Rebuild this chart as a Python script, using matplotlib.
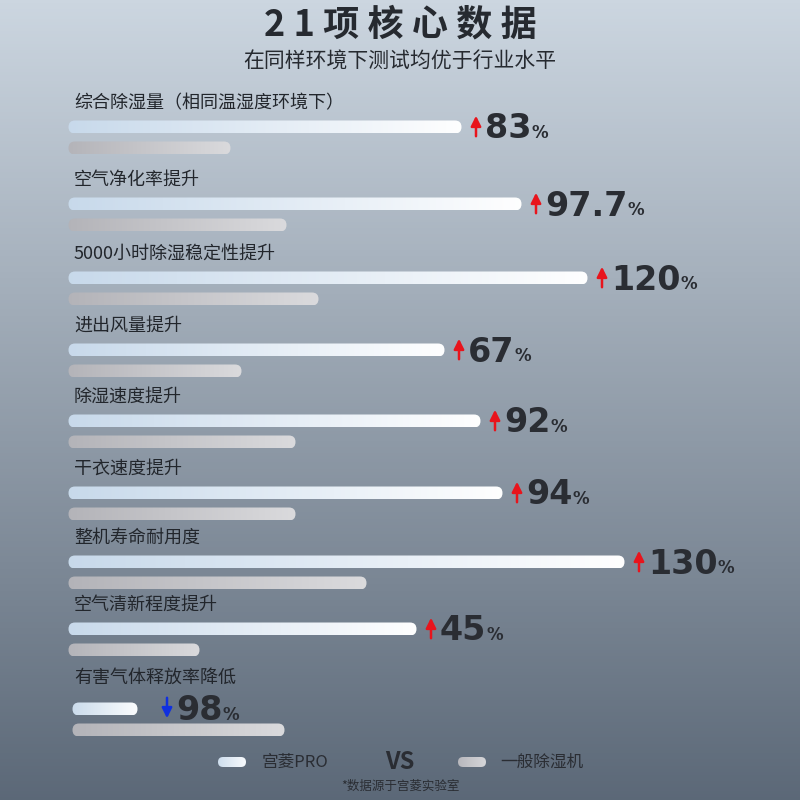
import numpy as np
import matplotlib.pyplot as plt
from matplotlib.patches import FancyBboxPatch

plt.rcParams['font.family'] = ['Noto Sans CJK SC', 'DejaVu Sans']

labels = ['综合除湿量（相同温湿度环境下）', '空气净化率提升', '5000小时除湿稳定性提升', '进出风量提升',
          '除湿速度提升', '干衣速度提升', '整机寿命耐用度', '空气清新程度提升', '有害气体释放率降低']
values = ['83', '97.7', '120', '67', '92', '94', '130', '45', '98']
up = [True] * 8 + [False]
pro_len = [394, 454, 520, 377, 413, 435, 557, 349, 66]
base_len = [163, 219, 251, 174, 228, 228, 299, 132, 213]
label_y = [103, 180, 254, 326, 397, 469, 538, 605, 678]

fig = plt.figure(figsize=(8, 8), dpi=100)
ax = fig.add_axes([0, 0, 1, 1])
ax.set_xlim(0, 800)
ax.set_ylim(800, 0)
ax.axis('off')

# background gradient
g = np.linspace(0, 1, 256)[:, None]
top = np.array([0.80, 0.84, 0.88])
bot = np.array([0.36, 0.41, 0.47])
bg = top + (bot - top) * g[..., None]
bg = np.repeat(bg, 2, axis=1)
ax.imshow(bg, extent=[0, 800, 800, 0], aspect='auto', zorder=0)


def grad_bar(x0, y, w, h, c0, c1):
    img = np.linspace(0, 1, 256)[None, :, None]
    img = np.array(c0) + (np.array(c1) - np.array(c0)) * img
    im = ax.imshow(img, extent=[x0, x0 + w, y + h / 2, y - h / 2], aspect='auto', zorder=2)
    p = FancyBboxPatch((x0 + h / 2, y - h / 2), max(w - h, 0.1), h,
                       boxstyle='round,pad=0,rounding_size=%f' % (h / 2),
                       transform=ax.transData, facecolor='none', edgecolor='none')
    ax.add_patch(p)
    im.set_clip_path(p)


ax.text(400, 25, '2 1 项 核 心 数 据', ha='center', va='center', fontsize=26, fontweight='bold', color='#262a30')
ax.text(400, 62, '在同样环境下测试均优于行业水平', ha='center', va='center', fontsize=15, color='#262a30')

pro_c0, pro_c1 = (0.78, 0.85, 0.92), (1.0, 1.0, 1.0)
base_c0, base_c1 = (0.70, 0.70, 0.72), (0.86, 0.86, 0.87)

for i in range(len(labels)):
    ly = label_y[i]
    x0 = 72 if i == 8 else 68
    ax.text(74, ly, labels[i], ha='left', va='center', fontsize=13, color='#22262c')
    py = ly + 24 if i < 8 else ly + 31
    grad_bar(x0 - 6, py, pro_len[i] + 12, 13, pro_c0, pro_c1)
    grad_bar(x0 - 6, py + 21, base_len[i] + 12, 13, base_c0, base_c1)
    ax_x = x0 + pro_len[i] + 14 if i < 8 else 167
    if up[i]:
        ax.annotate('', xy=(ax_x, py - 14), xytext=(ax_x, py + 12),
                    arrowprops=dict(arrowstyle='-|>,head_width=0.3,head_length=0.6', color='#e8141c', lw=1.8))
    else:
        ax.annotate('', xy=(ax_x, py + 12), xytext=(ax_x, py - 14),
                    arrowprops=dict(arrowstyle='-|>,head_width=0.3,head_length=0.6', color='#1030e0', lw=1.8))
    t = ax.text(ax_x + 9, py + 2, values[i], ha='left', va='center', fontsize=24,
                fontweight='bold', color='#2a2d33', family='DejaVu Sans')
    fig.canvas.draw()
    bb = t.get_window_extent().transformed(ax.transData.inverted())
    ax.text(bb.x1, py + 6, '%', ha='left', va='center', fontsize=12,
            fontweight='bold', color='#2a2d33', family='DejaVu Sans')

# legend
grad_bar(213, 762, 38, 10, pro_c0, pro_c1)
ax.text(262, 762, '宫菱PRO', ha='left', va='center', fontsize=12, color='#2a2d33')
ax.text(400, 762, 'VS', ha='center', va='center', fontsize=17, fontweight='bold', color='#2a2d33')
grad_bar(453, 762, 38, 10, base_c0, base_c1)
ax.text(500, 762, '一般除湿机', ha='left', va='center', fontsize=12, color='#2a2d33')
ax.text(400, 786, '*数据源于宫菱实验室', ha='center', va='center', fontsize=9, color='#2a2d33')

fig.savefig('out.png', dpi=100)
